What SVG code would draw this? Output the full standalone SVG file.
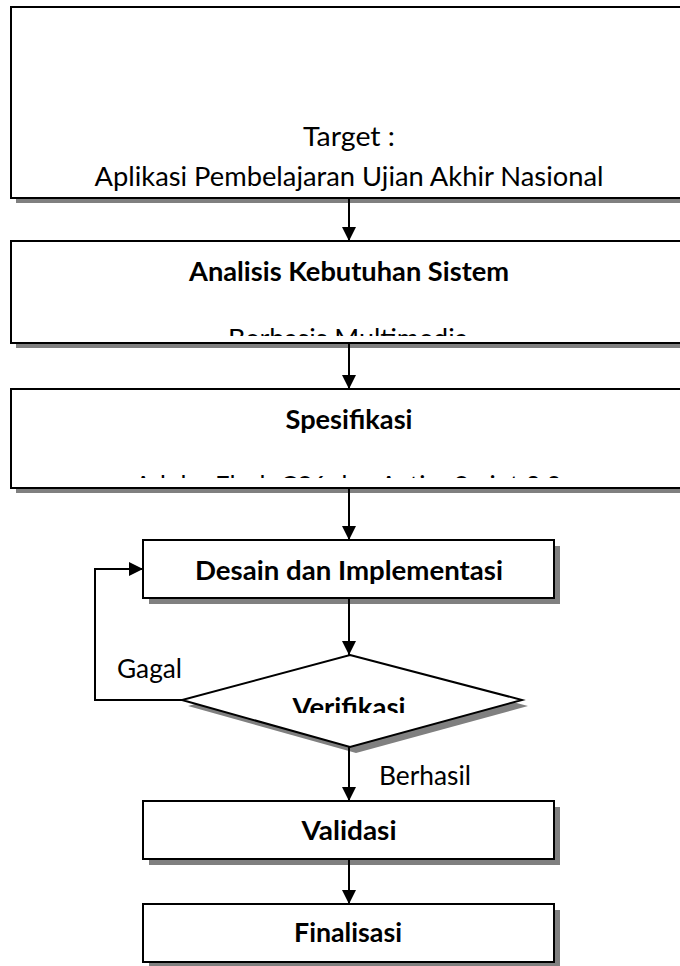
<svg xmlns="http://www.w3.org/2000/svg" width="680" height="966" viewBox="0 0 680 966">
<style>
.box{fill:#fff;stroke:#000;stroke-width:2}
.sh{fill:#808080}
.t{font-family:Lato,"Open Sans","Liberation Sans",sans-serif;font-size:26.5px;fill:#000;text-anchor:middle}
.b{font-weight:bold}
.ln{fill:none;stroke:#000;stroke-width:2}
</style>
<defs>
<marker id="ah" markerWidth="14" markerHeight="14" viewBox="0 0 14 14" refX="14" refY="7" orient="auto" markerUnits="userSpaceOnUse">
<path d="M0,0 L14,7 L0,14 Z" fill="#000"/>
</marker>
<clipPath id="c2"><rect x="11" y="241" width="680" height="95"/></clipPath>
<clipPath id="c3"><rect x="11" y="389" width="680" height="89"/></clipPath>
<clipPath id="cv"><rect x="180" y="655" width="345" height="58"/></clipPath>
</defs>
<g id="n-target">
<rect class="sh" x="16" y="12" width="680" height="191"/>
<rect class="box" x="11" y="7" width="680" height="191"/>
<text class="t" x="349" y="146" textLength="92" lengthAdjust="spacingAndGlyphs">Target :</text>
<text class="t" x="349" y="186" textLength="509" lengthAdjust="spacingAndGlyphs">Aplikasi Pembelajaran Ujian Akhir Nasional</text>
</g>
<g id="n-analisis">
<rect class="sh" x="16" y="246" width="680" height="102"/>
<rect class="box" x="11" y="241" width="680" height="102"/>
<text class="t b" x="349" y="281" textLength="320" lengthAdjust="spacingAndGlyphs">Analisis Kebutuhan Sistem</text>
<text class="t" x="348" y="348" textLength="240" lengthAdjust="spacingAndGlyphs" clip-path="url(#c2)">Berbasis Multimedia</text>
</g>
<g id="n-spesifikasi">
<rect class="sh" x="16" y="394" width="680" height="99"/>
<rect class="box" x="11" y="389" width="680" height="99"/>
<text class="t b" x="349" y="429" textLength="127" lengthAdjust="spacingAndGlyphs">Spesifikasi</text>
<text class="t" x="348" y="495" textLength="427" lengthAdjust="spacingAndGlyphs" clip-path="url(#c3)">Adobe Flash CS6 dan ActionScript 3.0</text>
</g>
<g id="n-desain">
<rect class="sh" x="149" y="546" width="411" height="58"/>
<rect class="box" x="143" y="540" width="411" height="58"/>
<text class="t b" x="349" y="580" textLength="308" lengthAdjust="spacingAndGlyphs">Desain dan Implementasi</text>
</g>
<g id="n-verifikasi">
<polygon class="sh" points="356,661 528,706 356,753 188,706"/>
<polygon class="box" points="350,655 522,700 350,747 182,700"/>
<text class="t b" x="349" y="717" textLength="113" lengthAdjust="spacingAndGlyphs" clip-path="url(#cv)">Verifikasi</text>
</g>
<g id="n-validasi">
<rect class="sh" x="149" y="807" width="411" height="58"/>
<rect class="box" x="143" y="801" width="411" height="58"/>
<text class="t b" x="349" y="840" textLength="95" lengthAdjust="spacingAndGlyphs">Validasi</text>
</g>
<g id="n-finalisasi">
<rect class="sh" x="149" y="910" width="411" height="58"/>
<rect class="box" x="143" y="904" width="411" height="58"/>
<text class="t b" x="348" y="942" textLength="108" lengthAdjust="spacingAndGlyphs">Finalisasi</text>
</g>
<g id="connectors">
<line class="ln" x1="349" y1="198" x2="349" y2="241" marker-end="url(#ah)"/>
<line class="ln" x1="349" y1="343" x2="349" y2="389" marker-end="url(#ah)"/>
<line class="ln" x1="349" y1="488" x2="349" y2="540" marker-end="url(#ah)"/>
<line class="ln" x1="349" y1="598" x2="349" y2="655" marker-end="url(#ah)"/>
<line class="ln" x1="349" y1="747" x2="349" y2="801" marker-end="url(#ah)"/>
<line class="ln" x1="349" y1="859" x2="349" y2="904" marker-end="url(#ah)"/>
<polyline class="ln" points="182,700 95,700 95,569 143,569" marker-end="url(#ah)"/>
<text class="t" x="149.5" y="678" textLength="65" lengthAdjust="spacingAndGlyphs">Gagal</text>
<text class="t" x="425" y="785" textLength="92" lengthAdjust="spacingAndGlyphs">Berhasil</text>
</g>
</svg>
